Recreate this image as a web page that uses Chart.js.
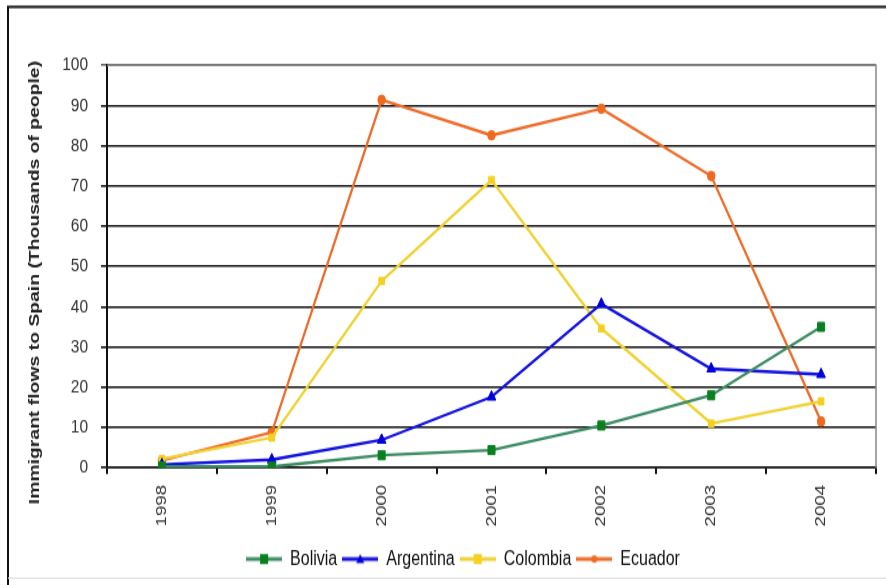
<!DOCTYPE html>
<html>
<head>
<meta charset="utf-8">
<script src="https://cdn.jsdelivr.net/npm/chart.js@4.4.1/dist/chart.umd.min.js"></script>
<style>
  html { overflow: hidden; }
  body { margin: 0; padding: 0; background: #fff; height: 585px; }
  /* the source picture is stretched vertically, so the chart is drawn 886x468 and scaled up */
  #wrap { width: 886px; height: 468px; transform: scaleY(1.25); transform-origin: 0 0; }
</style>
</head>
<body>
<div id="wrap"><canvas id="flows" width="886" height="468"></canvas></div>
<script>
// Immigrant flows to Spain, thousands of people
const years = ['1998', '1999', '2000', '2001', '2002', '2003', '2004'];
const bolivia = [0.3, 0.3, 3.1, 4.4, 10.5, 18, 35];
const argentina = [0.8, 2, 6.9, 17.6, 40.7, 24.6, 23.2];
const colombia = [2.2, 7.5, 46.4, 71.5, 34.6, 11, 16.5];
const ecuador = [1.8, 8.8, 91.4, 82.6, 89.2, 72.5, 11.5];

const yTitle = 'Immigrant flows to Spain (Thousands of people)';
const fontFamily = "'Liberation Sans', Arial, sans-serif";

// Small line + marker pictures for the legend entries
function legendIcon(lineColor, markColor, shape, size) {
    const c = document.createElement('canvas');
    c.width = 36;
    c.height = 12;
    const g = c.getContext('2d');
    g.strokeStyle = lineColor;
    g.lineWidth = 3;
    g.beginPath();
    g.moveTo(0, 6);
    g.lineTo(36, 6);
    g.stroke();
    g.fillStyle = markColor;
    g.beginPath();
    if (shape === 'rect') {
        g.rect(18 - size, 6 - size, size * 2, size * 2);
    } else if (shape === 'triangle') {
        g.moveTo(18, 6 - size);
        g.lineTo(18 + size, 6 + size * 0.8);
        g.lineTo(18 - size, 6 + size * 0.8);
        g.closePath();
    } else {
        g.arc(18, 6, size, 0, Math.PI * 2);
    }
    g.fill();
    return c;
}

const series = [
    { label: 'Bolivia', data: bolivia, line: '#3b8c62', mark: '#08801e', style: 'rect', radius: 5 },
    { label: 'Argentina', data: argentina, line: '#1212e0', mark: '#0000dc', style: 'triangle', radius: 5 },
    { label: 'Colombia', data: colombia, line: '#f0d232', mark: '#f4d020', style: 'rect', radius: 4 },
    { label: 'Ecuador', data: ecuador, line: '#ee6c2a', mark: '#f06a1e', style: 'circle', radius: 3.8 }
];
const icons = series.map(s => legendIcon(s.line, s.mark, s.style, s.style === 'circle' ? 3 : 4));

// Outer frame, plot border and the rotated y title
const framePlugin = {
    id: 'frame',
    beforeDraw(chart) {
        const ctx = chart.ctx;
        ctx.save();
        ctx.fillStyle = '#fff';
        ctx.fillRect(0, 0, chart.width, chart.height);
        ctx.strokeStyle = '#111';
        ctx.lineWidth = 2;
        ctx.beginPath();
        ctx.moveTo(8, chart.height);
        ctx.lineTo(8, 5.6);
        ctx.lineTo(chart.width, 5.6);
        ctx.stroke();
        ctx.strokeStyle = '#ddd';
        ctx.lineWidth = 1;
        ctx.beginPath();
        ctx.moveTo(8, 462.5);
        ctx.lineTo(chart.width, 462.5);
        ctx.stroke();
        ctx.restore();
    },
    beforeDatasetsDraw(chart) {
        const a = chart.chartArea;
        const ctx = chart.ctx;
        ctx.save();
        ctx.strokeStyle = '#888';
        ctx.lineWidth = 1.5;
        ctx.beginPath();
        ctx.moveTo(a.left, a.top);
        ctx.lineTo(a.right, a.top);
        ctx.lineTo(a.right, a.bottom);
        ctx.stroke();
        ctx.restore();
    },
    afterDraw(chart) {
        const ctx = chart.ctx;
        ctx.save();
        ctx.translate(35, 226);
        ctx.rotate(-Math.PI / 2);
        ctx.font = 'bold 15.5px ' + fontFamily;
        ctx.fillStyle = '#222';
        ctx.textAlign = 'center';
        ctx.textBaseline = 'middle';
        ctx.fillText(yTitle, 0, 0);
        ctx.restore();
    }
};

new Chart(document.getElementById('flows'), {
    type: 'line',
    data: {
        labels: years,
        datasets: series.map(s => ({
            label: s.label,
            data: s.data,
            borderColor: s.line,
            backgroundColor: s.mark,
            borderWidth: 2.3,
            tension: 0,
            fill: false,
            pointStyle: s.style,
            pointRadius: s.radius,
            pointBackgroundColor: s.mark,
            pointBorderColor: s.mark,
            pointBorderWidth: 1
        }))
    },
    options: {
        responsive: false,
        animation: false,
        devicePixelRatio: 1,
        layout: { padding: { left: 50, right: 10, top: 52.2, bottom: 2.8 } },
        plugins: {
            tooltip: { enabled: false },
            title: { display: false },
            legend: {
                position: 'bottom',
                labels: {
                    usePointStyle: true,
                    pointStyleWidth: 36,
                    padding: 5,
                    color: '#111',
                    font: { family: fontFamily, size: 16 },
                    generateLabels(chart) {
                        const items = Chart.defaults.plugins.legend.labels.generateLabels(chart);
                        items.forEach((it, i) => { it.pointStyle = icons[i]; });
                        return items;
                    }
                }
            }
        },
        scales: {
            x: {
                offset: true,
                afterFit(scale) { scale.height = 60; },
                grid: {
                    display: true,
                    offset: true,
                    drawOnChartArea: false,
                    drawTicks: true,
                    tickLength: 5,
                    color: '#111',
                    lineWidth: 2
                },
                border: { color: '#111', width: 1.6 },
                ticks: {
                    minRotation: 90,
                    maxRotation: 90,
                    padding: 8.6,
                    color: '#333',
                    font: { family: fontFamily, size: 15 }
                }
            },
            y: {
                min: 0,
                max: 100,
                afterFit(scale) { scale.width = 57; },
                grid: {
                    color: ctx => (ctx.tick && ctx.tick.value === 100 ? '#666' : '#111'),
                    lineWidth: 1.6,
                    drawTicks: true,
                    tickLength: 6
                },
                border: { color: '#111', width: 2 },
                ticks: {
                    stepSize: 10,
                    padding: 13,
                    color: '#333',
                    font: { family: fontFamily, size: 15.5 }
                }
            }
        }
    },
    plugins: [framePlugin]
});
</script>
</body>
</html>
